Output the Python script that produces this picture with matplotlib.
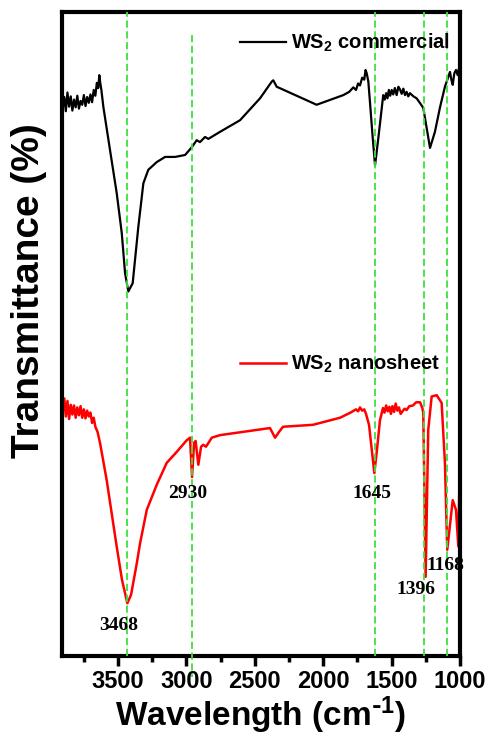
import matplotlib
matplotlib.use('Agg')
import matplotlib.pyplot as plt
from matplotlib.ticker import MultipleLocator

plt.rcParams['font.family'] = ['Liberation Sans', 'DejaVu Sans']
plt.rcParams['font.weight'] = 'bold'
plt.rcParams['mathtext.default'] = 'regular'

# FTIR spectrum, commercial WS2 (wavenumber in cm-1, transmittance in %)
wn_com = [3905, 3893, 3882, 3870, 3858, 3846, 3834, 3822, 3810, 3798, 3786, 3774,
          3762, 3750, 3738, 3726, 3714, 3702, 3690, 3678, 3666, 3655, 3645, 3637,
          3630, 3622, 3607, 3559, 3510, 3473, 3449, 3425, 3393, 3352, 3315, 3279,
          3217, 3156, 3083, 3010, 2961, 2925, 2901, 2864, 2840, 2754, 2608, 2462,
          2376, 2365, 2340, 2048, 1853, 1810, 1780, 1760, 1745, 1731, 1715, 1700,
          1690, 1682, 1670, 1658, 1640, 1621, 1597, 1561, 1550, 1540, 1530, 1520,
          1510, 1499, 1488, 1476, 1463, 1450, 1439, 1426, 1414, 1402, 1390, 1378,
          1366, 1340, 1317, 1290, 1268, 1219, 1183, 1146, 1110, 1073, 1063, 1053,
          1041, 1029, 1017, 1005]
t_com = [85.0, 86.8, 84.6, 87.5, 85.3, 86.9, 84.7, 86.4, 85.2, 87.0, 85.0, 86.2,
         85.6, 87.1, 85.4, 86.8, 85.9, 87.2, 86.0, 87.9, 87.0, 89.0, 88.2, 90.2,
         89.0, 87.9, 85.2, 78.6, 71.9, 65.7, 59.5, 56.6, 57.9, 66.6, 73.4, 75.5,
         76.7, 77.5, 77.5, 77.8, 79.0, 80.1, 79.8, 80.6, 80.3, 81.4, 83.2, 86.6,
         89.2, 89.4, 88.4, 85.6, 87.1, 87.6, 88.3, 87.9, 88.9, 88.6, 89.8, 89.5,
         91.0, 90.5, 89.2, 86.0, 81.0, 76.2, 80.4, 87.1, 86.4, 87.4, 86.6, 87.9,
         87.0, 87.9, 87.2, 88.2, 87.1, 88.4, 88.0, 87.3, 88.1, 87.1, 87.6, 86.9,
         87.4, 86.9, 86.6, 85.8, 85.1, 78.9, 81.4, 85.2, 88.4, 90.7, 89.5, 88.7,
         90.5, 91.0, 90.2, 91.5]

# FTIR spectrum, WS2 nanosheet
wn_nano = [3905, 3893, 3882, 3870, 3858, 3846, 3834, 3822, 3810, 3798, 3786, 3774,
           3762, 3750, 3738, 3726, 3714, 3702, 3690, 3678, 3666, 3650, 3632, 3583,
           3510, 3471, 3432, 3405, 3363, 3339, 3290, 3217, 3144, 3071, 2998, 2974,
           2959, 2944, 2933, 2913, 2893, 2877, 2857, 2815, 2754, 2389, 2352, 2323,
           2294, 2075, 1877, 1800, 1760, 1745, 1731, 1715, 1700, 1687, 1665, 1626,
           1607, 1585, 1563, 1552, 1540, 1528, 1516, 1505, 1494, 1482, 1470, 1458,
           1446, 1434, 1420, 1405, 1390, 1370, 1344, 1320, 1292, 1275, 1268, 1251,
           1232, 1207, 1170, 1134, 1110, 1093, 1053, 1029, 1012, 1000]
t_nano = [37.9, 40.0, 37.2, 39.6, 36.8, 39.0, 37.5, 38.9, 37.0, 38.6, 37.4, 38.8,
          37.0, 38.3, 36.9, 38.1, 37.2, 37.8, 36.2, 37.0, 35.6, 34.8, 33.1, 27.3,
          17.0, 11.8, 8.2, 9.5, 14.4, 17.5, 22.7, 26.6, 30.0, 31.7, 33.5, 33.9,
          27.8, 33.1, 33.4, 29.7, 32.5, 32.8, 32.5, 33.9, 34.3, 35.4, 33.9, 34.8,
          35.6, 35.9, 37.0, 37.8, 38.3, 38.0, 38.6, 38.1, 38.3, 37.6, 35.9, 28.4,
          32.0, 36.6, 38.5, 37.8, 38.9, 38.0, 38.7, 37.6, 38.8, 37.9, 39.2, 38.1,
          38.6, 37.6, 38.0, 38.4, 38.2, 38.8, 38.9, 39.4, 39.4, 38.5, 37.7, 12.3,
          35.1, 40.3, 40.5, 39.3, 30.0, 16.5, 24.2, 22.7, 17.0, 32.5]

# marked bands
band_pos = [3434, 2959, 1621, 1265, 1095]
band_text = ['3468', '2930', '1645', '1396', '1168']
text_xy = [(3493, 4.7), (2990, 25.3), (1643, 25.3), (1322, 10.4), (1110, 14.1)]

fig = plt.figure(figsize=(4.9, 7.38), dpi=100)
ax = fig.add_axes([0.1265, 0.1111, 0.8122, 0.8726])

l1, = ax.plot(wn_com, t_com, color='black', lw=1.6, label='WS$_2$ commercial')
l2, = ax.plot(wn_nano, t_nano, color='red', lw=1.8, label='WS$_2$ nanosheet')

green = '#3ee03e'
for i, x in enumerate(band_pos):
    if i == 1:
        ax.plot([x, x], [96.4, -3.3], color=green, lw=1.3,
                ls=(0, (4, 2)), clip_on=False, zorder=3)
    else:
        ax.axvline(x, color=green, lw=1.3, ls=(0, (4, 2)), zorder=3)

for s, (x, y) in zip(band_text, text_xy):
    ax.text(x, y, s, ha='center', va='center', fontsize=14,
            family='Liberation Serif', fontweight='bold')

leg1 = ax.legend(handles=[l1], loc='center left', bbox_to_anchor=(0.447, 0.952),
                 frameon=False, fontsize=14.5, handlelength=2.3,
                 handletextpad=0.25, borderpad=0, borderaxespad=0)
ax.add_artist(leg1)
ax.legend(handles=[l2], loc='center left', bbox_to_anchor=(0.447, 0.453),
          frameon=False, fontsize=14.5, handlelength=2.3,
          handletextpad=0.25, borderpad=0, borderaxespad=0)

ax.set_xlim(3910, 1000)
ax.set_ylim(0, 100)
ax.set_yticks([])
ax.set_xticks([3500, 3000, 2500, 2000, 1500, 1000])
ax.xaxis.set_minor_locator(MultipleLocator(250))
ax.tick_params(axis='x', which='major', length=7, width=2.5, labelsize=17, pad=3)
ax.tick_params(axis='x', which='minor', length=4, width=2.5)
for sp in ax.spines.values():
    sp.set_linewidth(3)

ax.set_xlabel(r'Wavelength (cm$^{\text{-}1}$)', fontsize=24, fontweight='bold',
              labelpad=1)
ax.set_ylabel('Transmittance (%)', fontsize=28, fontweight='bold')
ax.yaxis.set_label_coords(-0.038, 0.568)

fig.savefig('out.png', dpi=100)
